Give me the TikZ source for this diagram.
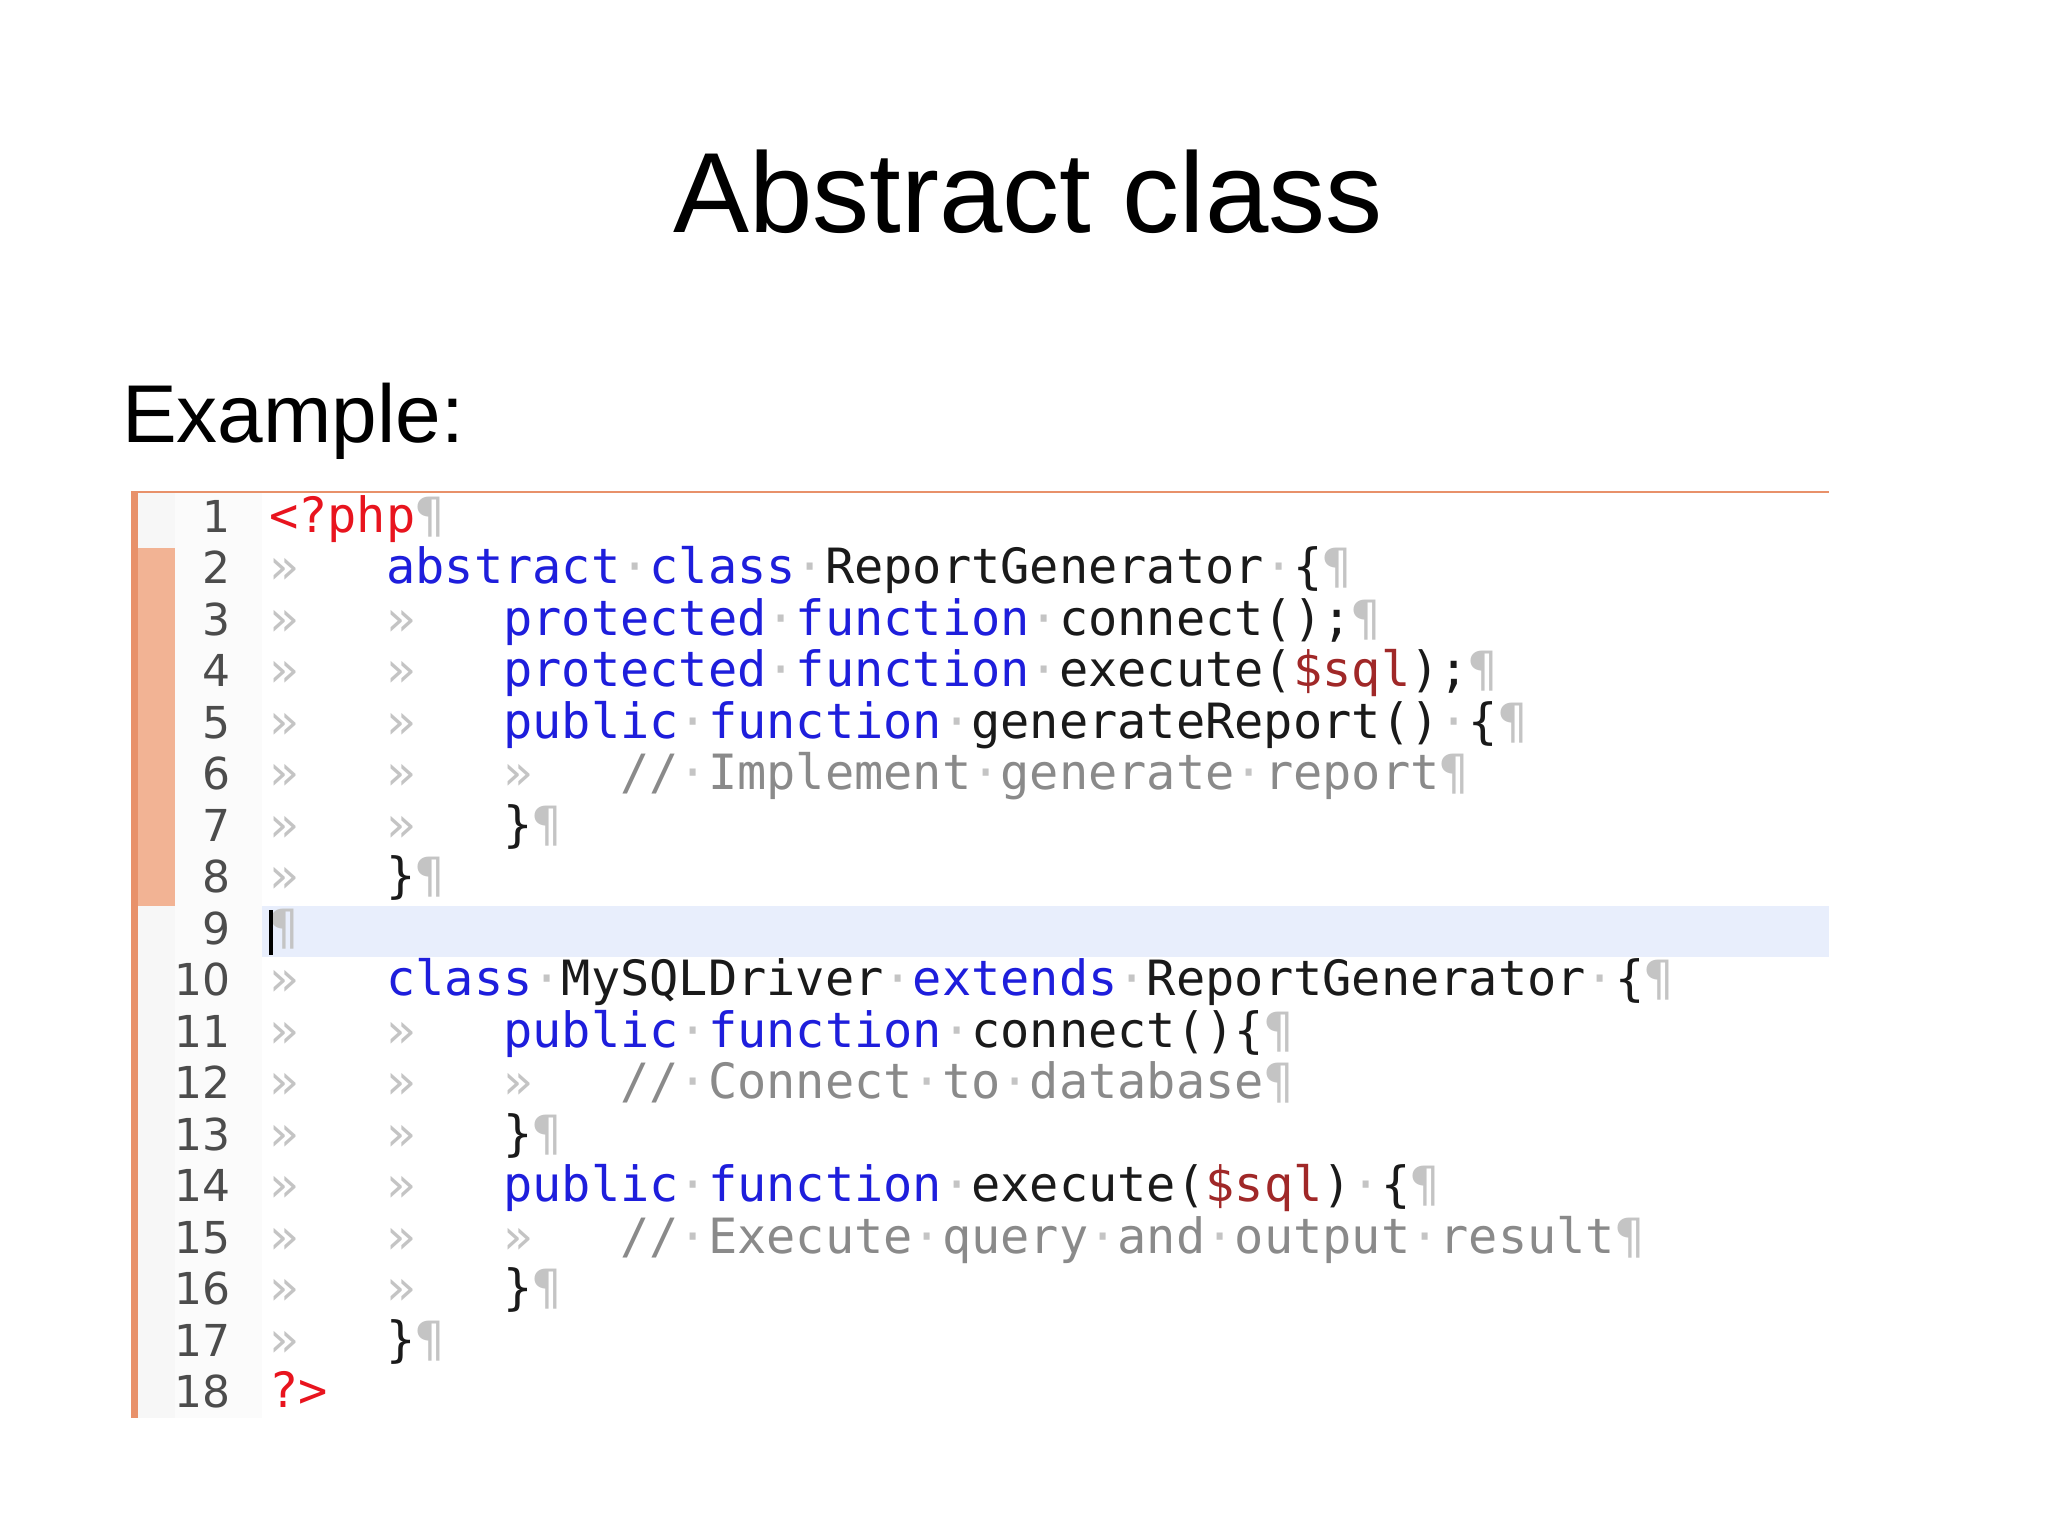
\documentclass[tikz,border=0pt]{standalone}
\usepackage{fontspec}
\setmainfont{Liberation Sans}
\newfontfamily\codefont{DejaVu Sans Mono}
\newfontfamily\numfont{DejaVu Sans}
\definecolor{kw}{HTML}{1E1EDC}
\definecolor{ph}{HTML}{E8141E}
\definecolor{var}{HTML}{A02828}
\definecolor{cm}{HTML}{8A8A8A}
\definecolor{ws}{HTML}{C4C4C4}
\definecolor{tx}{HTML}{1A1A1A}
\definecolor{org}{HTML}{E8916A}
\definecolor{hatch}{HTML}{F2B394}
\definecolor{hl}{HTML}{E8EEFC}
\newcommand{\kw}[1]{\textcolor{kw}{#1}}
\newcommand{\cmt}[1]{\textcolor{cm}{#1}}
\newcommand{\sd}{\textcolor{ws}{·}}
\newcommand{\pc}{\textcolor{ws}{¶}}
\newcommand{\tb}{\makebox[2.408em][l]{\textcolor{ws}{»}}}
\tikzset{
  code/.style={anchor=base west, inner sep=0pt, font=\codefont\fontsize{48.6}{50}\selectfont, text=tx},
  lnum/.style={anchor=base east, inner sep=0pt, font=\numfont\fontsize{44}{46}\selectfont, text=black!70},
}
\begin{document}
\begin{tikzpicture}[x=1pt,y=-1pt]
\useasboundingbox (0,0) rectangle (2048,1535);
\fill[white] (0,0) rectangle (2048,1535);
\node[anchor=base, inner sep=0pt, font=\fontsize{114}{120}\selectfont] (title) at (1028,232) {Abstract class};
\node[anchor=base west, inner sep=0pt, font=\fontsize{82}{88}\selectfont] (ex) at (122,442) {Example:};
% editor frame
\fill[black!3] (138,492) rectangle (175,1418);
\fill[hatch] (138,548) rectangle (175,906);
\fill[black!1.5] (175,492) rectangle (262,1418);
\fill[hl] (262,906) rectangle (1829,957);
\fill[org] (131,492) rectangle (138,1418);
\draw[org, line width=1.5pt] (131,492) -- (1829,492);
\foreach \i in {1,...,18} {
  \node[lnum] (n\i) at (231,{532+(\i-1)*51.5}) {\i};
}
\def\L#1{{532+(#1-1)*51.5}}
\node[code] (c1) at (269,\L{1}) {\textcolor{ph}{<?php}\pc};
\node[code] (c2) at (269,\L{2}) {\tb\kw{abstract}\sd\kw{class}\sd ReportGenerator\sd\{\pc};
\node[code] (c3) at (269,\L{3}) {\tb\tb\kw{protected}\sd\kw{function}\sd connect();\pc};
\node[code] (c4) at (269,\L{4}) {\tb\tb\kw{protected}\sd\kw{function}\sd execute(\textcolor{var}{\$sql});\pc};
\node[code] (c5) at (269,\L{5}) {\tb\tb\kw{public}\sd\kw{function}\sd generateReport()\sd\{\pc};
\node[code] (c6) at (269,\L{6}) {\tb\tb\tb\cmt{//}\sd\cmt{Implement}\sd\cmt{generate}\sd\cmt{report}\pc};
\node[code] (c7) at (269,\L{7}) {\tb\tb\}\pc};
\node[code] (c8) at (269,\L{8}) {\tb\}\pc};
\node[code] (c9) at (269,\L{9}) {\pc};
\fill[black] (269,910) rectangle (273,955);
\node[code] (c10) at (269,\L{10}) {\tb\kw{class}\sd MySQLDriver\sd\kw{extends}\sd ReportGenerator\sd\{\pc};
\node[code] (c11) at (269,\L{11}) {\tb\tb\kw{public}\sd\kw{function}\sd connect()\{\pc};
\node[code] (c12) at (269,\L{12}) {\tb\tb\tb\cmt{//}\sd\cmt{Connect}\sd\cmt{to}\sd\cmt{database}\pc};
\node[code] (c13) at (269,\L{13}) {\tb\tb\}\pc};
\node[code] (c14) at (269,\L{14}) {\tb\tb\kw{public}\sd\kw{function}\sd execute(\textcolor{var}{\$sql})\sd\{\pc};
\node[code] (c15) at (269,\L{15}) {\tb\tb\tb\cmt{//}\sd\cmt{Execute}\sd\cmt{query}\sd\cmt{and}\sd\cmt{output}\sd\cmt{result}\pc};
\node[code] (c16) at (269,\L{16}) {\tb\tb\}\pc};
\node[code] (c17) at (269,\L{17}) {\tb\}\pc};
\node[code] (c18) at (269,\L{18}) {\textcolor{ph}{?>}};
\end{tikzpicture}
\end{document}
